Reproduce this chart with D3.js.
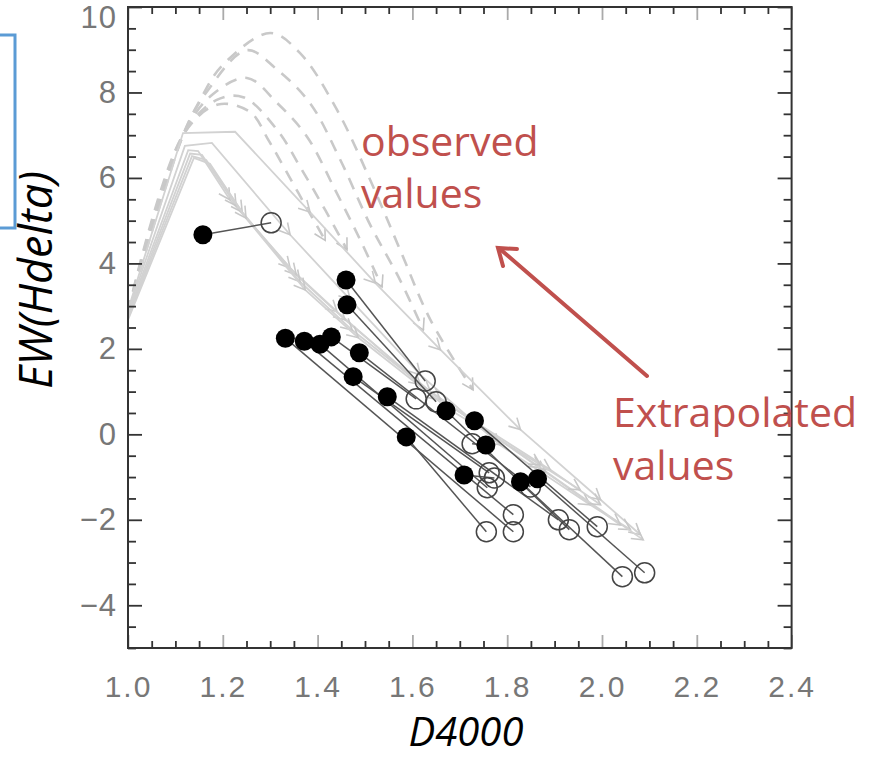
<!DOCTYPE html>
<html>
<head>
<meta charset="utf-8">
<script src="https://cdn.jsdelivr.net/npm/d3@7"></script>
<style>
  html, body { margin: 0; padding: 0; background: #fff; }
  svg { display: block; }
</style>
</head>
<body>
<svg id="chart" width="877" height="757"></svg>
<script>
// Observed galaxies (filled) and their extrapolated positions (open), paired by index
const obsD4000 = [1.158, 1.460, 1.462, 1.332, 1.372, 1.405, 1.429, 1.488, 1.475, 1.547, 1.587, 1.671, 1.731, 1.755, 1.709, 1.828, 1.864];
const obsEW    = [4.67, 3.61, 3.03, 2.25, 2.18, 2.11, 2.28, 1.91, 1.35, 0.88, -0.06, 0.55, 0.32, -0.25, -0.95, -1.11, -1.04];
const extD4000 = [1.302, 1.627, 1.650, 1.813, 1.813, 1.758, 1.608, 1.849, 1.762, 1.908, 1.756, 1.931, 1.990, 1.726, 1.773, 2.043, 2.090];
const extEW    = [4.95, 1.25, 0.76, -2.28, -1.88, -1.25, 0.83, -1.23, -0.90, -2.00, -2.28, -2.23, -2.16, -0.22, -1.02, -3.33, -3.24];

// Model evolution tracks: [D4000, EW(Hdelta)] per time step
const solidTracks = [
  [[1.000, 2.91], [1.116, 7.05], [1.226, 7.08], [1.384, 5.20], [1.522, 3.54], [1.659, 1.98], [1.828, 0.11], [1.997, -1.53], [2.081, -2.35]],
  [[1.000, 2.87], [1.120, 6.75], [1.177, 6.82], [1.342, 4.67], [1.469, 3.15], [1.617, 1.39], [1.785, -0.25], [1.975, -1.65], [2.060, -2.23]],
  [[1.000, 2.82], [1.127, 6.65], [1.148, 6.63], [1.215, 5.49], [1.342, 3.89], [1.441, 2.87], [1.617, 1.16], [1.870, -0.78], [2.087, -2.47]],
  [[1.000, 2.77], [1.131, 6.57], [1.156, 6.54], [1.228, 5.35], [1.355, 3.73], [1.458, 2.68], [1.638, 1.00], [1.881, -0.88], [2.039, -2.12]],
  [[1.000, 2.73], [1.135, 6.51], [1.165, 6.42], [1.241, 5.20], [1.363, 3.57], [1.473, 2.44], [1.659, 0.81], [1.891, -0.83], [1.997, -1.65]],
  [[1.000, 2.68], [1.139, 6.47], [1.173, 6.33], [1.249, 5.06], [1.374, 3.38], [1.486, 2.26], [1.680, 0.57], [1.870, -0.71], [1.954, -1.30]]
];
const dashedTracks = [
  [[1.000, 2.87], [1.116, 7.00], [1.152, 7.82], [1.198, 8.62], [1.300, 9.39], [1.363, 8.92], [1.441, 7.59], [1.511, 5.95], [1.574, 4.32], [1.638, 2.68], [1.728, 1.04]],
  [[1.000, 2.87], [1.116, 7.00], [1.169, 8.06], [1.251, 8.99], [1.315, 8.53], [1.384, 7.75], [1.448, 6.42], [1.511, 4.90], [1.574, 3.61], [1.623, 2.44]],
  [[1.000, 2.87], [1.116, 7.00], [1.177, 7.94], [1.251, 8.34], [1.315, 7.75], [1.378, 6.96], [1.437, 5.72], [1.490, 4.55], [1.536, 3.45]],
  [[1.000, 2.87], [1.116, 7.00], [1.186, 7.82], [1.243, 7.89], [1.315, 7.12], [1.363, 6.26], [1.416, 5.25], [1.462, 4.32]],
  [[1.000, 2.87], [1.116, 7.00], [1.190, 7.72], [1.258, 7.54], [1.296, 6.89], [1.332, 6.19], [1.374, 5.36], [1.416, 4.54]]
];

// Axis ticks
const xMajor = [1.0, 1.2, 1.4, 1.6, 1.8, 2.0, 2.2, 2.4];
const xLabels = ["1.0", "1.2", "1.4", "1.6", "1.8", "2.0", "2.2", "2.4"];
const yMajor = [-4, -2, 0, 2, 4, 6, 8, 10];
const yLabels = ["\u22124", "\u22122", "0", "2", "4", "6", "8", "10"];

const svg = d3.select("#chart");
const x = d3.scaleLinear().domain([1.0, 2.4]).range([128, 791.6]);
const y = d3.scaleLinear().domain([-5, 10]).range([648, 7]);
const X0 = x.range()[0], X1 = x.range()[1], Y0 = y.range()[0], Y1 = y.range()[1];

// Left bracket box
svg.append("rect").attr("x", -20).attr("y", 35).attr("width", 35).attr("height", 193)
  .attr("fill", "none").attr("stroke", "#5b9bd5").attr("stroke-width", 3);

const plot = svg.append("g");
plot.append("clipPath").attr("id", "clip").append("rect")
  .attr("x", X0).attr("y", Y1).attr("width", X1 - X0).attr("height", Y0 - Y1);
const tracks = plot.append("g").attr("clip-path", "url(#clip)");

const line = d3.line().x(d => x(d[0])).y(d => y(d[1]));
const curved = d3.line().x(d => x(d[0])).y(d => y(d[1])).curve(d3.curveCatmullRom.alpha(0.5));

function chevron(g, p0, p1, color) {
  const ax = x(p1[0]), ay = y(p1[1]);
  const ang = Math.atan2(y(p1[1]) - y(p0[1]), x(p1[0]) - x(p0[0])) * 180 / Math.PI;
  g.append("path")
    .attr("d", "M-11,-6 L0,0 L-11,6")
    .attr("transform", `translate(${ax},${ay}) rotate(${ang})`)
    .attr("fill", "none").attr("stroke", color).attr("stroke-width", 1.6);
}

// Dashed model tracks
dashedTracks.forEach(t => {
  tracks.append("path").attr("d", curved(t))
    .attr("fill", "none").attr("stroke", "#c9c9c9").attr("stroke-width", 2.6)
    .attr("stroke-dasharray", "12,9");
  chevron(tracks, t[t.length - 2], t[t.length - 1], "#c4c4c4");
});

// Solid model tracks
solidTracks.forEach(t => {
  tracks.append("path").attr("d", line(t))
    .attr("fill", "none").attr("stroke", "#d2d2d2").attr("stroke-width", 1.8);
  for (let i = 3; i < t.length; i++) chevron(tracks, t[i - 1], t[i], "#c8c8c8");
});

// Observed -> extrapolated connectors
const pts = obsD4000.map((d, i) => ({ ox: d, oy: obsEW[i], ex: extD4000[i], ey: extEW[i] }));
plot.append("g").selectAll("line").data(pts).join("line")
  .attr("x1", d => x(d.ox)).attr("y1", d => y(d.oy))
  .attr("x2", d => x(d.ex)).attr("y2", d => y(d.ey))
  .attr("stroke", "#555").attr("stroke-width", 1.5);

plot.append("g").selectAll("circle").data(pts).join("circle")
  .attr("cx", d => x(d.ex)).attr("cy", d => y(d.ey)).attr("r", 10)
  .attr("fill", "none").attr("stroke", "#444").attr("stroke-width", 1.5);

plot.append("g").selectAll("circle").data(pts).join("circle")
  .attr("cx", d => x(d.ox)).attr("cy", d => y(d.oy)).attr("r", 9.5)
  .attr("fill", "#000");

// Frame and ticks
const axes = svg.append("g");
function tickSet(axisFn, scale, vals, size, color, transform) {
  const g = axes.append("g").attr("transform", transform)
    .call(axisFn(scale).tickValues(vals).tickSize(size).tickFormat(""));
  g.select(".domain").remove();
  g.selectAll("line").attr("stroke", color).attr("stroke-width", 1.8);
  return g;
}
const xMinor = d3.range(1.0, 2.4001, 0.05).filter(v => Math.abs(v * 5 - Math.round(v * 5)) > 1e-6);
const yMinor = d3.range(-5, 10.001, 0.5).filter(v => v % 2 !== 0);
tickSet(d3.axisBottom, x, xMinor, -7, "#333", `translate(0,${Y0})`);
tickSet(d3.axisBottom, x, xMajor, -13, "#aaa", `translate(0,${Y0})`);
tickSet(d3.axisTop, x, xMinor, -7, "#333", `translate(0,${Y1})`);
tickSet(d3.axisTop, x, xMajor, -13, "#aaa", `translate(0,${Y1})`);
tickSet(d3.axisLeft, y, yMinor, -8, "#333", `translate(${X0},0)`);
tickSet(d3.axisLeft, y, yMajor, -14, "#333", `translate(${X0},0)`);
tickSet(d3.axisRight, y, yMinor, -8, "#333", `translate(${X1},0)`);
tickSet(d3.axisRight, y, yMajor, -14, "#333", `translate(${X1},0)`);

axes.append("rect").attr("x", X0).attr("y", Y1).attr("width", X1 - X0).attr("height", Y0 - Y1)
  .attr("fill", "none").attr("stroke", "#333").attr("stroke-width", 2);

// Tick labels
const labelFont = "'Liberation Sans', Arial, sans-serif";
const xl = axes.append("g").attr("transform", `translate(0,${Y0})`)
  .call(d3.axisBottom(x).tickValues(xMajor).tickSize(0).tickPadding(28)
    .tickFormat((d, i) => xLabels[i]));
xl.select(".domain").remove();
xl.selectAll("text").attr("font-family", labelFont).attr("font-size", 30)
  .attr("letter-spacing", 2).attr("fill", "#777");

const yl = axes.append("g").attr("transform", `translate(${X0},0)`)
  .call(d3.axisLeft(y).tickValues(yMajor).tickSize(0).tickPadding(11)
    .tickFormat((d, i) => yLabels[i]));
yl.select(".domain").remove();
yl.selectAll("text").attr("font-family", labelFont).attr("font-size", 31)
  .attr("letter-spacing", 1).attr("fill", "#777");
// the top label is kept inside the page, just under the frame's top edge
yl.selectAll(".tick").filter(d => d === 10).select("text").attr("dy", "0.66em");

// Axis titles
const titleFont = "'Open Sans', 'Noto Sans', sans-serif";
svg.append("text").text("D4000")
  .attr("x", 466).attr("y", 746).attr("text-anchor", "middle")
  .attr("font-family", titleFont).attr("font-style", "italic").attr("font-size", 40).attr("fill", "#000");
svg.append("text").text("EW(Hdelta)")
  .attr("transform", "translate(52,280) rotate(-90)").attr("text-anchor", "middle")
  .attr("font-family", titleFont).attr("font-style", "italic").attr("font-size", 45).attr("fill", "#000");

// Annotations
const red = "#c0504d";
const ann = svg.append("g").attr("font-family", titleFont).attr("font-size", 41).attr("fill", red);
ann.append("text").attr("x", 361).attr("y", 156).text("observed");
ann.append("text").attr("x", 361).attr("y", 208).text("values");
ann.append("text").attr("x", 613).attr("y", 427).text("Extrapolated");
ann.append("text").attr("x", 613).attr("y", 480).text("values");

svg.append("line").attr("x1", 647).attr("y1", 376).attr("x2", 500).attr("y2", 249)
  .attr("stroke", red).attr("stroke-width", 4).attr("stroke-linecap", "round");
svg.append("path").attr("d", "M503,266 L498,248 L517,249")
  .attr("fill", "none").attr("stroke", red).attr("stroke-width", 4)
  .attr("stroke-linecap", "round").attr("stroke-linejoin", "miter");
</script>
</body>
</html>
